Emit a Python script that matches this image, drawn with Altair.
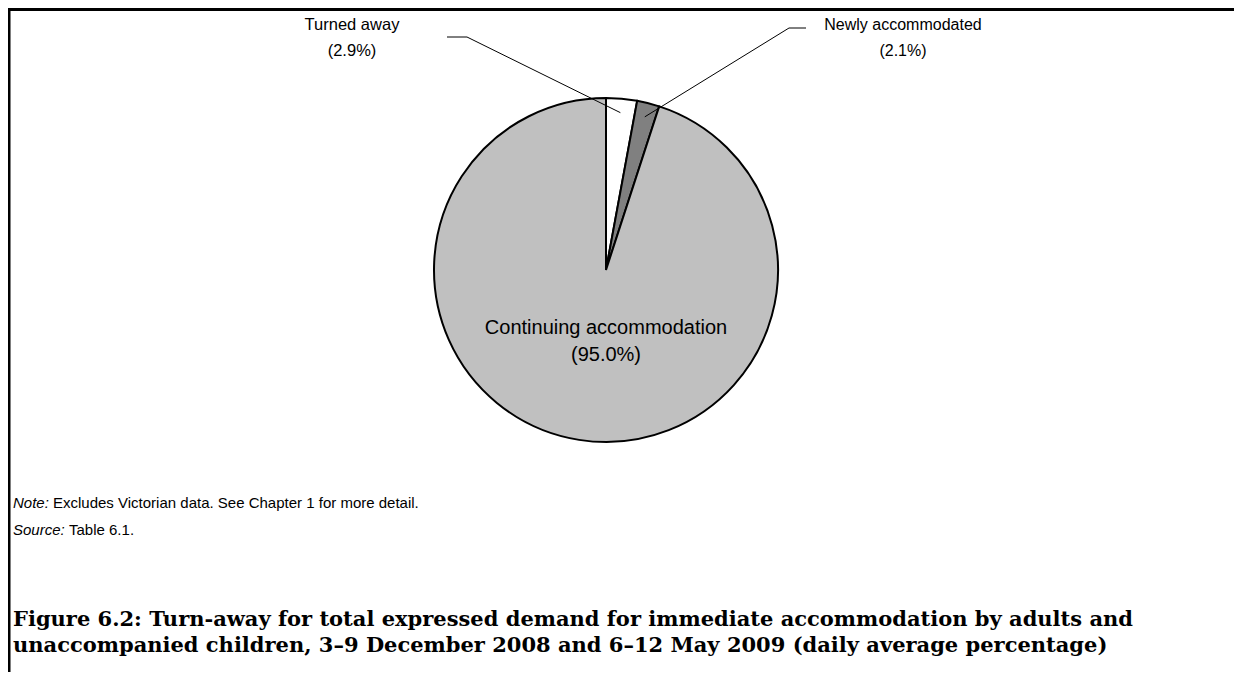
import math
import altair as alt
import pandas as pd

# ---- data ----
categories = ["Turned away", "Newly accommodated", "Continuing accommodation"]
values = [2.9, 2.1, 95.0]
colors = ["#ffffff", "#808080", "#c0c0c0"]
note_label = "Note:"
note_text = "Excludes Victorian data. See Chapter 1 for more detail."
source_label = "Source:"
source_text = "Table 6.1."
title_lines = [
    "Figure 6.2: Turn-away for total expressed demand for immediate accommodation by adults and",
    "unaccompanied children, 3\u20139 December 2008 and 6\u201312 May 2009 (daily average percentage)",
]

W, H = 1226, 664
OFF = 8  # page margin
CX, CY, R = 606 - OFF, 270 - OFF, 172
LX = 13  # left text start (page px)

df = pd.DataFrame({"category": categories, "value": values, "order": [0, 1, 2]})

pie = alt.Chart(df).mark_arc(
    outerRadius=R, stroke="black", strokeWidth=2, strokeJoin="miter"
).encode(
    theta=alt.Theta("value:Q", stack=True),
    order=alt.Order("order:Q"),
    color=alt.Color("category:N", scale=alt.Scale(domain=categories, range=colors), legend=None),
    x=alt.value(CX),
    y=alt.value(CY),
)

# leader-line anchors from slice mid-angles
total = sum(values)
cum = 0
anchors = []
for v in values:
    mid = (cum + v / 2) / total * 2 * math.pi
    cum += v
    anchors.append((CX + 158 * math.sin(mid), CY - 158 * math.cos(mid)))

base = alt.Chart(pd.DataFrame({"a": [0]}))

def rule(x1, y1, x2, y2, w=1):
    return base.mark_rule(color="black", strokeWidth=w, strokeCap="butt").encode(
        x=alt.value(x1), y=alt.value(y1), x2=alt.value(x2), y2=alt.value(y2)
    )

def text(t, x, y, size=17, align="center", font="Liberation Sans", style="normal", weight="normal"):
    return base.mark_text(
        text=t, align=align, baseline="middle", fontSize=size, font=font,
        fontStyle=style, fontWeight=weight, color="black"
    ).encode(x=alt.value(x), y=alt.value(y))

layers = [pie]
# leaders
ta = anchors[0]
layers += [rule(447 - OFF, 37 - OFF, 467 - OFF, 37 - OFF), rule(467 - OFF, 37 - OFF, ta[0], ta[1])]
na = anchors[1]
layers += [rule(806 - OFF, 28 - OFF, 789 - OFF, 28 - OFF), rule(789 - OFF, 28 - OFF, na[0], na[1])]

# labels
layers += [
    text(categories[0], 352 - OFF, 25 - OFF, size=16.5),
    text(f"({values[0]:.1f}%)", 352 - OFF, 51 - OFF, size=16.5),
    text(categories[1], 903 - OFF, 25 - OFF, size=16),
    text(f"({values[1]:.1f}%)", 903 - OFF, 51 - OFF, size=16),
    text(categories[2], 606 - OFF, 328 - OFF, size=20),
    text(f"({values[2]:.1f}%)", 606 - OFF, 355 - OFF, size=20),
]

# notes
NS = 15
layers += [
    text(note_label, LX - OFF, 503 - OFF, size=NS, align="left", style="italic"),
    text(note_text, LX + 40 - OFF, 503 - OFF, size=NS, align="left"),
    text(source_label, LX - OFF, 530 - OFF, size=NS, align="left", style="italic"),
    text(source_text, LX + 56 - OFF, 530 - OFF, size=NS, align="left"),
]

# title
layers += [
    text(title_lines[0], LX - OFF, 620 - OFF, size=21, align="left", font="DejaVu Serif", weight="bold"),
    text(title_lines[1], LX - OFF, 646 - OFF, size=21, align="left", font="DejaVu Serif", weight="bold"),
]

# frame (top and left)
layers += [
    base.mark_rect(color="black").encode(x=alt.value(0), x2=alt.value(W), y=alt.value(0), y2=alt.value(3)),
    base.mark_rect(color="black").encode(x=alt.value(0), x2=alt.value(2.5), y=alt.value(0), y2=alt.value(H)),
]

chart = alt.layer(*layers).properties(
    width=W, height=H, padding=0, autosize="none"
).configure_view(stroke=None)

chart.save("out.html", embed_options={"renderer": "svg", "actions": False})
